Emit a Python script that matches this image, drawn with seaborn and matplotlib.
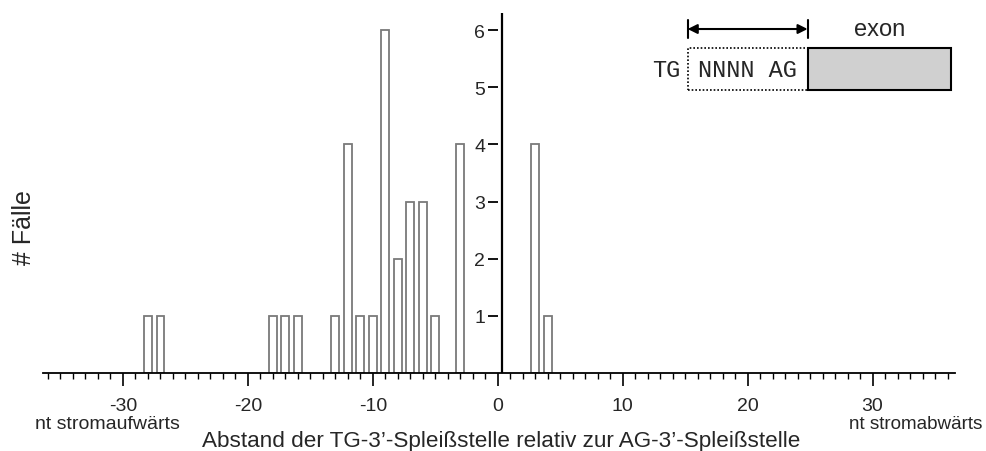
import matplotlib
matplotlib.use("Agg")
import matplotlib.pyplot as plt
from matplotlib.patches import Rectangle
from matplotlib.ticker import MultipleLocator
import seaborn as sns
import pandas as pd

sns.set_theme(style="white")
plt.rcParams["font.family"] = ["Liberation Sans", "DejaVu Sans"]

# Distance of the TG 3' splice site relative to the AG 3' splice site (nt)
distance = [-28, -27, -18, -17, -16, -13, -12, -11, -10, -9, -8, -7, -6, -5, -3, 3, 4]
cases = [1, 1, 1, 1, 1, 1, 4, 1, 1, 6, 2, 3, 3, 1, 4, 4, 1]
x_ticks = [-30, -20, -10, 0, 10, 20, 30]
y_ticks = [1, 2, 3, 4, 5, 6]

df = pd.DataFrame({"distance": distance, "cases": cases})

fig = plt.figure(figsize=(9.86, 4.52), dpi=100)
ax = fig.add_axes([0.0436, 0.1726, 0.925, 0.7964])

sns.barplot(data=df, x="distance", y="cases", native_scale=True, width=0.62,
            color="white", saturation=1, edgecolor="#7a7a7a", linewidth=1.3,
            ax=ax)

ax.set_xlim(-36.4, 36.6)
ax.set_ylim(0, 6.3)

# axes: bottom line with major/minor ticks, vertical line near zero
for side in ("top", "right"):
    ax.spines[side].set_visible(False)
ax.spines["left"].set_position(("data", 0))
ax.spines["left"].set_visible(False)
ax.spines["bottom"].set_color("black")
ax.spines["bottom"].set_linewidth(1.3)
ax.axvline(0.35, color="black", lw=1.6, zorder=5)

ax.set_xticks(x_ticks)
ax.set_xticklabels([str(v) for v in x_ticks])
ax.xaxis.set_minor_locator(MultipleLocator(1))
ax.tick_params(axis="x", which="major", direction="out", length=9, width=1.2,
               color="black", labelsize=14, pad=8, bottom=True)
ax.tick_params(axis="x", which="minor", direction="out", length=4, width=1.0,
               color="black", bottom=True)
ax.set_yticks(y_ticks)
ax.set_yticklabels([str(v) for v in y_ticks])
ax.tick_params(axis="y", which="major", direction="out", length=7, width=1.3,
               color="black", labelsize=14, pad=2, left=True)

ax.set_xlabel("")
ax.set_ylabel("")
fig.text(501 / 986, 1 - 442 / 452,
         "Abstand der TG-3’-Spleißstelle relativ zur AG-3’-Spleißstelle",
         fontsize=16.2, ha="center", va="center")
fig.text(24 / 986, 1 - 228 / 452, "# Fälle", rotation=90, fontsize=18,
         ha="center", va="center")

fig.text(107 / 986, 1 - 425 / 452, "nt stromaufwärts", fontsize=14,
         ha="center", va="center")
fig.text(982 / 986, 1 - 425 / 452, "nt stromabwärts", fontsize=13.6,
         ha="right", va="center")

# Schematic: TG ... NNNN AG | exon
mono = ["Liberation Mono", "DejaVu Sans Mono"]
ax.add_patch(Rectangle((15.2, 4.96), 9.6, 0.72, fill=False, ls=(0, (1, 1.2)),
                       lw=1.2, ec="black", clip_on=False, zorder=6))
ax.add_patch(Rectangle((24.8, 4.96), 11.5, 0.72, fc="#d0d0d0", ec="black",
                       lw=1.5, clip_on=False, zorder=6))
ax.text(13.5, 5.32, "TG", family=mono, fontsize=17, ha="center", va="center")
ax.text(20.0, 5.32, "NNNN AG", family=mono, fontsize=17, ha="center", va="center")
ax.text(30.6, 6.02, "exon", fontsize=17, ha="center", va="center")
ax.annotate("", xy=(15.2, 6.02), xytext=(24.8, 6.02),
            arrowprops=dict(arrowstyle="<|-|>", color="black", lw=1.5,
                            shrinkA=0, shrinkB=0, mutation_scale=14))
for xv in (15.2, 24.8):
    ax.plot([xv, xv], [5.86, 6.18], color="black", lw=1.5, clip_on=False)

fig.savefig("out.png", dpi=100)
